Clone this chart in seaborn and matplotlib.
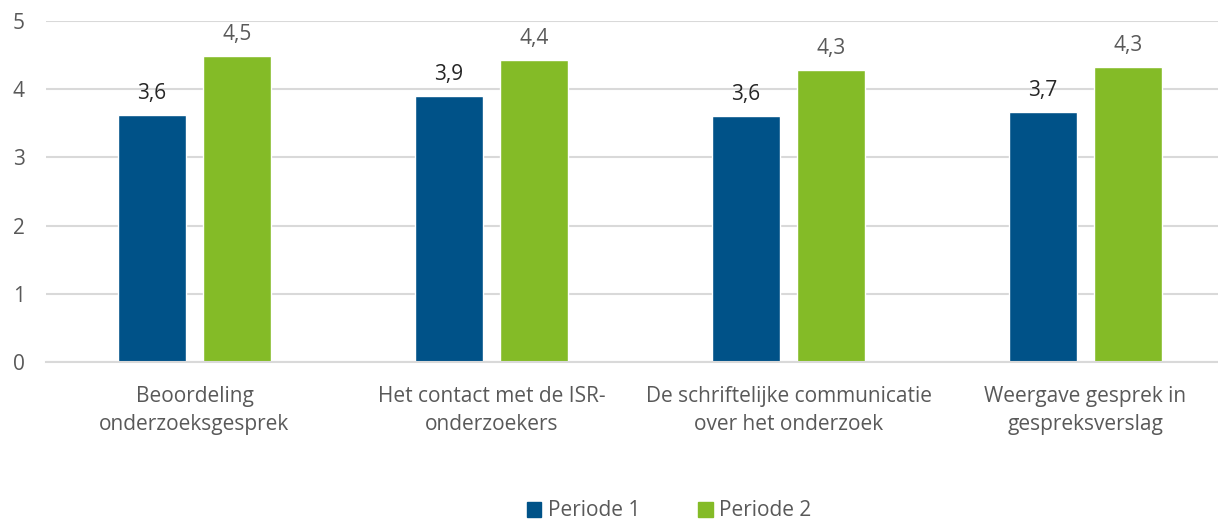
import pandas as pd
import matplotlib.pyplot as plt
import seaborn as sns

# data
categories = ['Beoordeling\nonderzoeksgesprek', 'Het contact met de ISR-\nonderzoekers',
              'De schriftelijke communicatie\nover het onderzoek', 'Weergave gesprek in\ngespreksverslag']
periode_1 = [3.62, 3.90, 3.61, 3.66]
periode_2 = [4.49, 4.43, 4.28, 4.33]
series = ['Periode 1', 'Periode 2']
colors = ['#005288', '#84BB27']
label_colors = ['#262626', '#595959']

sns.set_style('white')
plt.rcParams['font.family'] = ['Open Sans', 'DejaVu Sans']

df = pd.DataFrame({
    'categorie': categories * 2,
    'score': periode_1 + periode_2,
    'periode': [series[0]] * 4 + [series[1]] * 4,
})

fig = plt.figure(figsize=(12.18, 5.2), dpi=100)
# plot area runs a little past the right edge of the figure, as in the original
ax = fig.add_axes([46 / 1218, 1 - 362 / 520, 1188 / 1218, (362 - 21) / 520])

sns.barplot(data=df, x='categorie', y='score', hue='periode', palette=colors,
            width=0.572, gap=0.21, saturation=1, ax=ax, legend=False)

# value labels with comma decimals
for cont, c in zip(ax.containers, label_colors):
    ax.bar_label(cont, labels=[f'{v:.1f}'.replace('.', ',') for v in cont.datavalues],
                 padding=8, fontsize=15, color=c)

ax.set_ylim(0, 5)
ax.set_xlim(-0.5, 3.5)
ax.set_yticks(range(6))
ax.yaxis.grid(True, color='#d9d9d9', linewidth=1.5)
ax.set_axisbelow(True)
for s in ['top', 'right', 'left']:
    ax.spines[s].set_visible(False)
ax.spines['bottom'].set_color('#d9d9d9')
ax.spines['bottom'].set_linewidth(1.5)
ax.tick_params(axis='both', length=0, labelsize=15, labelcolor='#595959')
ax.tick_params(axis='x', pad=17)
ax.tick_params(axis='y', pad=24)
for t in ax.get_yticklabels():
    t.set_horizontalalignment('left')
for t in ax.get_xticklabels():
    t.set_linespacing(1.45)
ax.set_xlabel('')
ax.set_ylabel('')

handles = [plt.Rectangle((0, 0), 1, 1, color=c) for c in colors]
fig.legend(handles, series, loc='center', bbox_to_anchor=(669 / 1218, 1 - 511 / 520),
           ncol=2, frameon=False, fontsize=15, labelcolor='#595959',
           handlelength=0.7, handleheight=0.7, handletextpad=0.3, columnspacing=2.8)

fig.savefig('out.png', dpi=100)
